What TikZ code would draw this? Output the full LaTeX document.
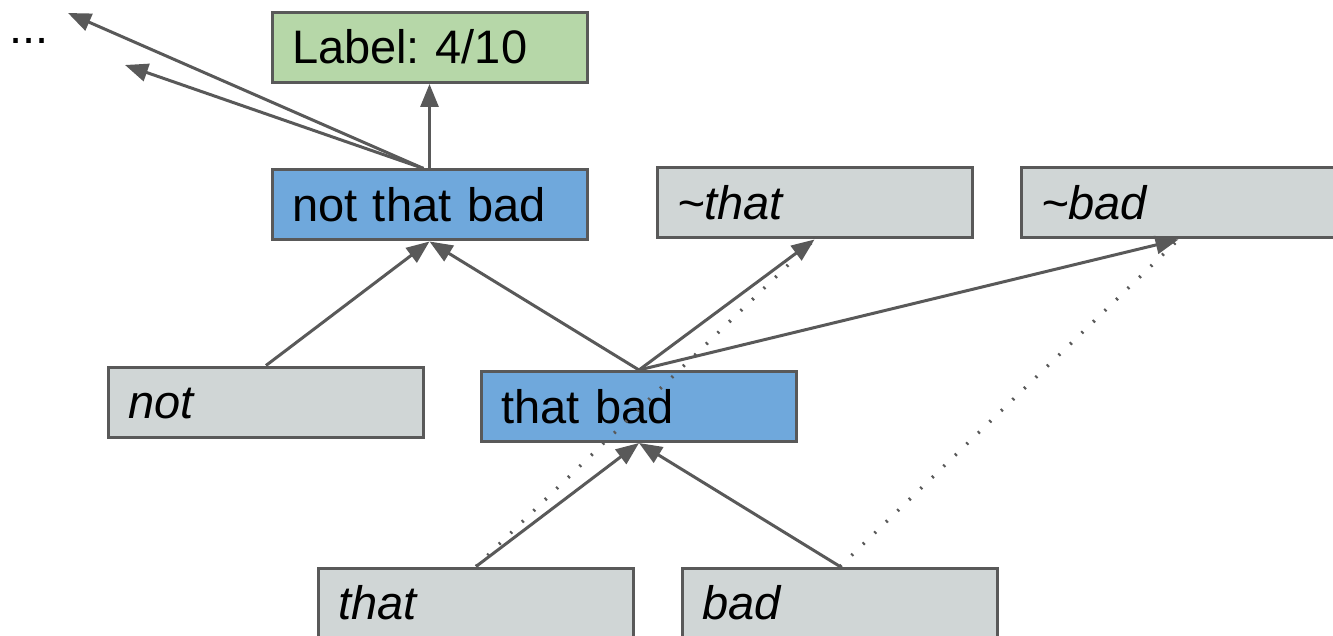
\documentclass[tikz,border=0pt]{standalone}
\usepackage{fontspec}
\setmainfont{Liberation Sans}
\usetikzlibrary{arrows.meta}
\frenchspacing

\definecolor{edgegray}{HTML}{595959}
\definecolor{leafgray}{HTML}{D0D6D6}
\definecolor{phraseblue}{HTML}{6FA8DC}
\definecolor{labelgreen}{HTML}{B6D7A8}

\begin{document}
\begin{tikzpicture}[x=0.5pt, y=-0.5pt,
  textfont/.style={font=\fontsize{23.5}{28}\selectfont},
  box/.style={draw=edgegray, line width=1.5pt, textfont,
    minimum width=157.5pt, minimum height=35pt,
    inner xsep=10pt, inner ysep=2pt, text width=137.5pt, align=left,
    text height=17.5pt, text depth=1pt},
  leafbox/.style={box, fill=leafgray, font=\fontsize{23.5}{28}\selectfont\itshape},
  phrasebox/.style={box, fill=phraseblue},
  labelbox/.style={box, fill=labelgreen},
  link/.style={draw=edgegray, line width=1.5pt,
    -{Triangle[length=11.5pt, width=9pt]}},
  negline/.style={draw=edgegray, line width=1.7pt, dash pattern=on 1pt off 7pt}
]
\useasboundingbox (0,0) rectangle (1333,636);

% tree nodes
\node[labelbox]  (label) at (429.5, 47.5) {Label: 4/10};
\node[phrasebox] (ntb)   at (429.5, 205)  {not that bad};
\node[leafbox]   (nthat) at (814.5, 203)  {\textasciitilde that};
\node[leafbox]   (nbad)  at (1178.5, 203) {\textasciitilde bad};
\node[leafbox]   (not)   at (266, 402)    {not};
\node[phrasebox] (tb)    at (639, 406.5)  {that bad};
\node[leafbox]   (that)  at (476, 603)    {that};
\node[leafbox]   (bad)   at (840, 603)    {bad};

% continuation of the tree beyond the picture
\node[textfont, anchor=base west, inner sep=0pt] (more) at (9, 44) {...};
\coordinate (up1) at (68, 13);
\coordinate (up2) at (125, 65);

% composition arrows
\draw[link] (that.north) -- (tb.south);
\draw[link] (bad.north) -- (tb.south);
\draw[link] (not.north) -- (ntb.south);
\draw[link] (tb.north) -- (ntb.south);
\draw[link] (tb.north) -- (nthat.south);
\draw[link] (tb.north) -- (nbad.south);
\draw[link] (ntb.north) -- (label.south);
\draw[link] ([xshift=-3pt]ntb.north) -- (up1);
\draw[link] ([xshift=-3pt]ntb.north) -- (up2);

% negation links
\draw[negline] (that.north) -- (nthat.south);
\draw[negline] (bad.north) -- (nbad.south);
\end{tikzpicture}
\end{document}
